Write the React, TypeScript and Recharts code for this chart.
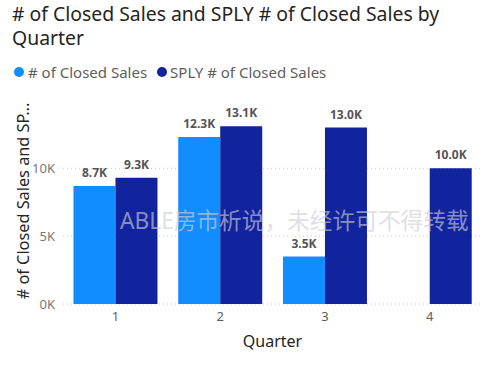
import { BarChart, Bar, XAxis, YAxis, CartesianGrid, LabelList } from 'recharts';

const quarters = ['1', '2', '3', '4'];
const closedSales: (number | null)[] = [8700, 12300, 3500, null];
const splyClosedSales = [9300, 13100, 13000, 10000];
const yTicks = [0, 5000, 10000];

const LIGHT = '#118DFF';
const DARK = '#12239E';
const FONT = '"Noto Sans", "Noto Sans CJK SC", sans-serif';

const chartData = quarters.map((q, i) => ({
  quarter: q,
  closed: closedSales[i],
  sply: splyClosedSales[i],
}));

const fmtK = (v: any) => (v == null ? '' : `${(v / 1000).toFixed(1)}K`);

// rotated y title, Power BI truncates it
const YTitle = () => (
  <text
    x={23}
    y={201}
    transform="rotate(-90, 23, 201)"
    textAnchor="middle"
    dominantBaseline="central"
    fill="#252423"
    fontSize={16.3}
    fontFamily={FONT}
  >
    # of Closed Sales and SP...
  </text>
);

export default function App() {
  return (
    <div style={{ position: 'absolute', left: 0, top: 0, width: 491, height: 367, background: '#fff', fontFamily: FONT }}>
      <div style={{ position: 'absolute', left: 12, top: 2, width: 450, fontSize: 19.4, lineHeight: '24px', color: '#252423' }}>
        # of Closed Sales and SPLY # of Closed Sales by Quarter
      </div>
      <div style={{ position: 'absolute', left: 14, top: 62, display: 'flex', alignItems: 'center', fontSize: 15, color: '#605E5C' }}>
        <span style={{ width: 10, height: 10, borderRadius: 5, background: LIGHT, marginRight: 4 }} />
        <span style={{ marginRight: 10 }}># of Closed Sales</span>
        <span style={{ width: 10, height: 10, borderRadius: 5, background: DARK, marginRight: 3 }} />
        <span>SPLY # of Closed Sales</span>
      </div>
      <BarChart
        width={491}
        height={367}
        data={chartData}
        margin={{ top: 114, right: 9, bottom: 0, left: 0 }}
        barCategoryGap="10%"
        barGap={0}
      >
        <CartesianGrid vertical={false} horizontalValues={yTicks} stroke="#c8c6c4" strokeDasharray="1 3" />
        <XAxis
          dataKey="quarter"
          height={63}
          axisLine={false}
          tickLine={false}
          tick={{ fill: '#605E5C', fontSize: 13, fontFamily: FONT }}
          label={{ value: 'Quarter', position: 'insideBottom', offset: 20, fill: '#252423', fontSize: 16, fontFamily: FONT }}
        />
        <YAxis
          width={63}
          domain={[0, 14000]}
          ticks={yTicks}
          axisLine={false}
          tickLine={false}
          tickFormatter={(v: number) => `${v / 1000}K`}
          tick={{ fill: '#777', fontSize: 13, fontFamily: FONT }}
          label={<YTitle />}
        />
        <Bar dataKey="closed" fill={LIGHT} isAnimationActive={false}>
          <LabelList dataKey="closed" position="top" offset={9} formatter={fmtK} fill="#555" fontSize={12} fontWeight="bold" fontFamily={FONT} />
        </Bar>
        <Bar dataKey="sply" fill={DARK} isAnimationActive={false}>
          <LabelList dataKey="sply" position="top" offset={9} formatter={fmtK} fill="#555" fontSize={12} fontWeight="bold" fontFamily={FONT} />
        </Bar>
      </BarChart>
      <div
        style={{
          position: 'absolute',
          left: 120,
          top: 211,
          fontSize: 22.7,
          lineHeight: '20px',
          whiteSpace: 'nowrap',
          color: 'rgba(205, 205, 215, 0.65)',
          pointerEvents: 'none',
        }}
      >
        ABLE房市析说，未经许可不得转载
      </div>
    </div>
  );
}
